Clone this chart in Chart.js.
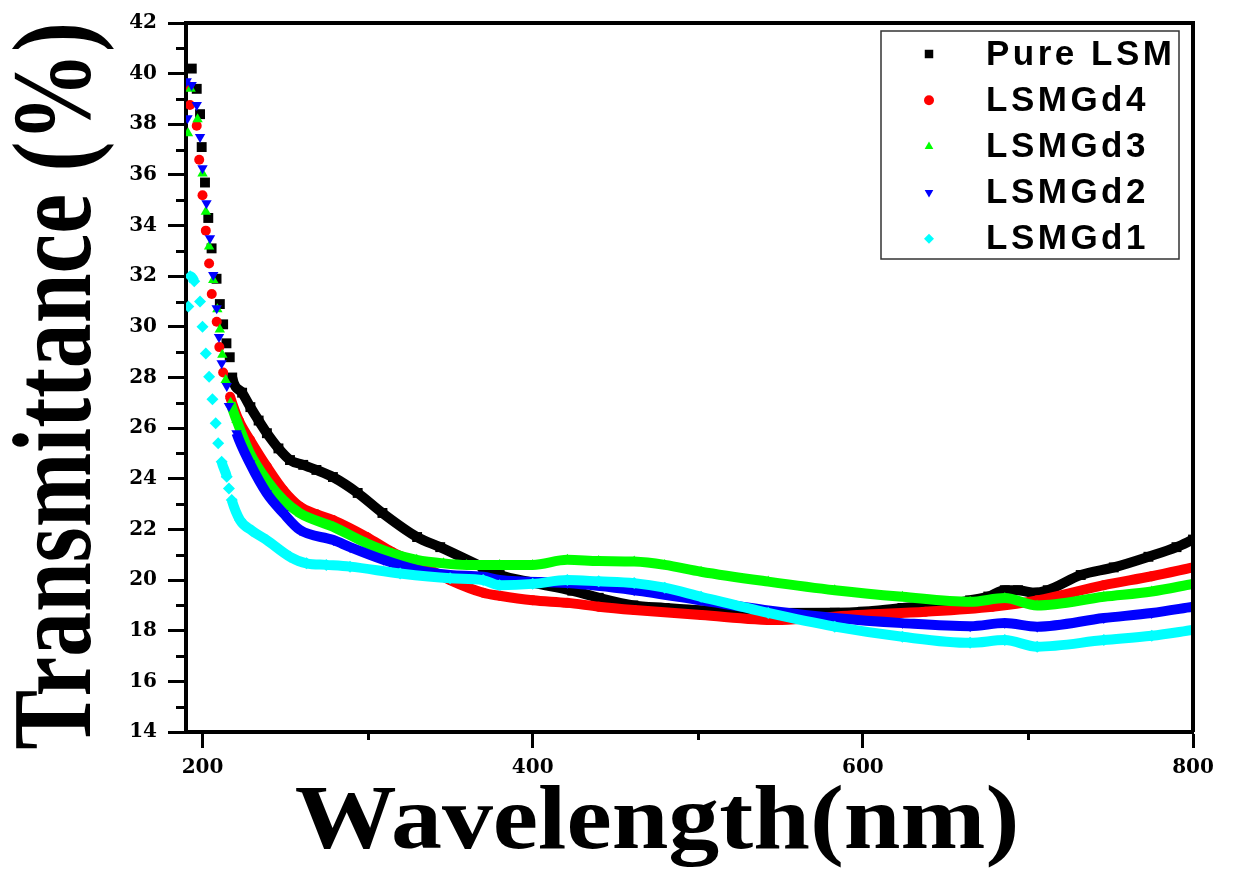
<!DOCTYPE html>
<html>
<head>
<meta charset="utf-8">
<script src="https://cdn.jsdelivr.net/npm/chart.js@4"></script>
<style>
  html, body { margin: 0; padding: 0; background: #fff; }
  #wrap { width: 1241px; height: 871px; }
</style>
</head>
<body>
<div id="wrap"><canvas id="chart-trans" width="1241" height="871"></canvas></div>
<script>
// wavelength (nm) and transmittance (%)
const pureWl = [193.5, 196.5, 198.5, 199.5, 201.5, 203.5, 205.5, 208.5, 210.5, 212.5, 214.5, 216.5, 218, 224, 229, 234, 239, 246, 253, 261, 269, 279, 294, 309, 330, 344, 370, 380, 400, 424, 440, 461, 480, 502, 540, 583, 600, 624, 645, 665, 676, 686, 694, 703, 712, 732, 752, 773, 790, 800];
const pureT  = [40.2, 39.4, 38.4, 37.1, 35.7, 34.3, 33.1, 31.9, 30.9, 30.1, 29.35, 28.8, 28.0, 27.4, 26.83, 26.3, 25.8, 25.2, 24.74, 24.55, 24.35, 24.07, 23.44, 22.65, 21.7, 21.3, 20.5, 20.2, 19.9, 19.58, 19.3, 19.0, 18.9, 18.8, 18.7, 18.71, 18.75, 18.9, 19.0, 19.2, 19.35, 19.6, 19.6, 19.5, 19.6, 20.2, 20.5, 20.92, 21.3, 21.6];

const gd4Wl = [191.5, 192.4, 196.5, 198, 200, 202, 204, 205.6, 208.6, 210.2, 212.5, 216.7, 222, 228.8, 238.9, 248.8, 259, 269, 279, 299.5, 315, 330, 350, 370, 380, 400, 421, 440, 461.5, 502, 548, 570, 597, 638, 678.5, 705.6, 746, 775, 800];
const gd4T  = [39.5, 38.76, 37.94, 36.6, 35.2, 33.8, 32.5, 31.3, 30.2, 29.2, 28.2, 27.24, 26.3, 25.53, 24.48, 23.56, 22.9, 22.6, 22.37, 21.7, 21.1, 20.67, 20.0, 19.5, 19.38, 19.2, 19.1, 18.95, 18.82, 18.62, 18.42, 18.5, 18.62, 18.75, 18.95, 19.2, 19.8, 20.15, 20.5];

const gd3Wl = [191.2, 192.8, 197, 200, 202, 204, 206.5, 209, 210.5, 212, 214, 217, 220.6, 228.8, 238.9, 249, 259, 279.3, 299.4, 315, 329.8, 346, 360, 380, 400, 421, 440, 461.5, 480, 502, 542.7, 583, 624, 665, 686, 705.6, 746, 775, 800];
const gd3T  = [37.65, 39.4, 38.2, 36.06, 34.55, 33.17, 31.85, 30.7, 29.9, 28.9, 27.9, 27.0, 26.32, 25.0, 23.95, 23.16, 22.64, 22.1, 21.45, 21.05, 20.8, 20.66, 20.6, 20.6, 20.6, 20.8, 20.75, 20.73, 20.6, 20.33, 19.94, 19.6, 19.34, 19.14, 19.29, 19.0, 19.34, 19.55, 19.85];

const gd2Wl = [190.4, 190.9, 193.4, 196.5, 198.5, 200, 202.4, 204.5, 206.5, 208.6, 210, 211.6, 214.7, 216, 220.6, 228.8, 238.9, 249, 259, 279.3, 289.4, 309.6, 329.8, 350, 370, 380, 421, 461.5, 502, 542.7, 583, 624, 665, 686, 705.6, 746, 775, 800];
const gd2T  = [39.7, 38.24, 39.55, 38.76, 37.5, 36.26, 34.88, 33.5, 32.05, 30.73, 29.6, 28.56, 27.66, 26.87, 25.8, 24.6, 23.43, 22.64, 21.98, 21.58, 21.3, 20.8, 20.4, 20.2, 20.13, 20.0, 19.88, 19.6, 19.2, 18.8, 18.5, 18.3, 18.18, 18.3, 18.16, 18.5, 18.7, 18.95];

const gd1Wl = [191.4, 192.5, 195, 198.5, 200, 202, 204, 206, 208, 209.5, 211.6, 214.7, 216, 217.7, 222.7, 230, 238.9, 253, 263, 275, 289.4, 319.7, 350, 370, 380, 400, 421, 440, 461.5, 480, 502, 542.7, 583, 624, 665, 686, 705.6, 746, 775, 800];
const gd1T  = [30.8, 32.0, 31.8, 31.0, 30.0, 28.95, 28.03, 27.14, 26.19, 25.4, 24.67, 24.08, 23.62, 23.16, 22.37, 21.95, 21.58, 20.92, 20.66, 20.6, 20.53, 20.26, 20.07, 20.0, 19.8, 19.85, 20.0, 19.95, 19.88, 19.7, 19.34, 18.7, 18.16, 17.76, 17.52, 17.63, 17.37, 17.63, 17.8, 18.03];

const seriesNames = ['Pure LSM', 'LSMGd4', 'LSMGd3', 'LSMGd2', 'LSMGd1'];
const yTicks = [14, 16, 18, 20, 22, 24, 26, 28, 30, 32, 34, 36, 38, 40, 42];
const xTicks = [200, 400, 600, 800];

const pts = (xs, ys) => xs.map((x, i) => ({ x, y: ys[i] }));

// steep parts of the curve show up as separate markers, the flat part as a band
const steep = ctx => Math.abs(ctx.p1.y - ctx.p0.y) > 3 * Math.abs(ctx.p1.x - ctx.p0.x);

function makeSet(label, data, color, style, radius, rotation, order) {
  return {
    label, data, order,
    showLine: true,
    borderColor: color,
    borderWidth: 10,
    backgroundColor: color,
    pointBackgroundColor: color,
    pointBorderWidth: 0,
    pointStyle: style,
    pointRadius: radius,
    pointRotation: rotation,
    cubicInterpolationMode: 'monotone',
    segment: { borderColor: ctx => steep(ctx) ? 'rgba(0,0,0,0)' : color },
  };
}

const sets = [
  makeSet(seriesNames[0], pts(pureWl, pureT), '#000000', 'rect', 7, 0, 5),
  makeSet(seriesNames[1], pts(gd4Wl, gd4T), '#ff0000', 'circle', 5, 0, 4),
  makeSet(seriesNames[2], pts(gd3Wl, gd3T), '#00ff00', 'triangle', 6, 0, 3),
  makeSet(seriesNames[3], pts(gd2Wl, gd2T), '#0000ff', 'triangle', 6, 180, 2),
  makeSet(seriesNames[4], pts(gd1Wl, gd1T), '#00ffff', 'rectRot', 6, 0, 1),
];

const serif = '"Liberation Serif", "Times New Roman", serif';
const tickFont = { family: '"DejaVu Serif", serif', size: 20, weight: 'bold' };

// minor ticks, top/right frame, axis titles and the boxed legend
const decor = {
  id: 'decor',
  afterDraw(chart) {
    const { ctx, chartArea: a, scales: { x, y } } = chart;
    ctx.save();
    ctx.strokeStyle = '#000';
    ctx.lineWidth = 3;
    for (let v = 15; v < 42; v += 2) {
      const py = Math.round(y.getPixelForValue(v)) + 0.5;
      ctx.beginPath(); ctx.moveTo(a.left - 10, py); ctx.lineTo(a.left, py); ctx.stroke();
    }
    [300, 500, 700].forEach(v => {
      const px = Math.round(x.getPixelForValue(v)) + 0.5;
      ctx.beginPath(); ctx.moveTo(px, a.bottom); ctx.lineTo(px, a.bottom + 8); ctx.stroke();
    });
    ctx.lineWidth = 4;
    ctx.beginPath();
    ctx.moveTo(a.left, a.top); ctx.lineTo(a.right, a.top); ctx.lineTo(a.right, a.bottom);
    ctx.stroke();

    // axis titles
    ctx.fillStyle = '#000';
    ctx.textAlign = 'center';
    ctx.textBaseline = 'alphabetic';
    ctx.save();
    ctx.translate(90, 386);
    ctx.rotate(-Math.PI / 2);
    ctx.scale(0.8, 1);
    ctx.font = 'bold 112px ' + serif;
    ctx.fillText('Transmittance (%)', 0, 0);
    ctx.restore();
    ctx.save();
    ctx.translate(657, 848);
    ctx.scale(1.12, 1);
    ctx.font = 'bold 91px ' + serif;
    ctx.fillText('Wavelength(nm)', 0, 0);
    ctx.restore();

    // legend
    const bx = a.right - 312, by = a.top + 8, bw = 298, bh = 228;
    ctx.fillStyle = '#fff';
    ctx.fillRect(bx, by, bw, bh);
    ctx.strokeStyle = '#333';
    ctx.lineWidth = 1.5;
    ctx.strokeRect(bx, by, bw, bh);
    ctx.font = 'bold 35px "Liberation Sans", Arial, sans-serif';
    ctx.letterSpacing = '3.5px';
    ctx.textAlign = 'left';
    ctx.textBaseline = 'middle';
    chart.data.datasets.forEach((ds, i) => {
      const cy = by + 23 + i * 46.2;
      ctx.fillStyle = ds.pointBackgroundColor;
      Chart.helpers.drawPoint(ctx, {
        pointStyle: ds.pointStyle,
        radius: ds.pointStyle === 'rect' ? 6 : 5,
        rotation: ds.pointRotation,
        borderWidth: 0,
      }, bx + 48, cy);
      ctx.fillStyle = '#000';
      ctx.fillText(ds.label, bx + 105, cy + 1);
    });
    ctx.restore();
  },
};

function initChart() {
  const cvs = document.getElementById('chart-trans').getContext('2d');
  new Chart(cvs, {
    type: 'scatter',
    data: { datasets: sets },
    options: {
      responsive: false,
      animation: false,
      layout: { padding: { top: 22, right: 48, left: 0, bottom: 0 } },
      plugins: { legend: { display: false }, tooltip: { enabled: false } },
      scales: {
        x: {
          type: 'linear',
          min: 190, max: 800,
          afterFit: s => { s.height = 139; },
          afterBuildTicks: s => { s.ticks = xTicks.map(value => ({ value })); },
          ticks: {
            includeBounds: false,
            padding: 8,
            color: '#000',
            font: tickFont,
          },
          border: { display: true, color: '#000', width: 4 },
          grid: { drawOnChartArea: false, drawTicks: true, tickLength: 16, tickWidth: 3, tickColor: '#000' },
        },
        y: {
          type: 'linear',
          min: 14, max: 42,
          afterFit: s => { s.width = 186; },
          afterBuildTicks: s => { s.ticks = yTicks.map(value => ({ value })); },
          ticks: {
            padding: 11,
            color: '#000',
            font: tickFont,
          },
          border: { display: true, color: '#000', width: 4 },
          grid: { drawOnChartArea: false, drawTicks: true, tickLength: 18, tickWidth: 3, tickColor: '#000' },
        },
      },
    },
    plugins: [decor],
  });
}

document.addEventListener('DOMContentLoaded', initChart);
</script>
</body>
</html>
